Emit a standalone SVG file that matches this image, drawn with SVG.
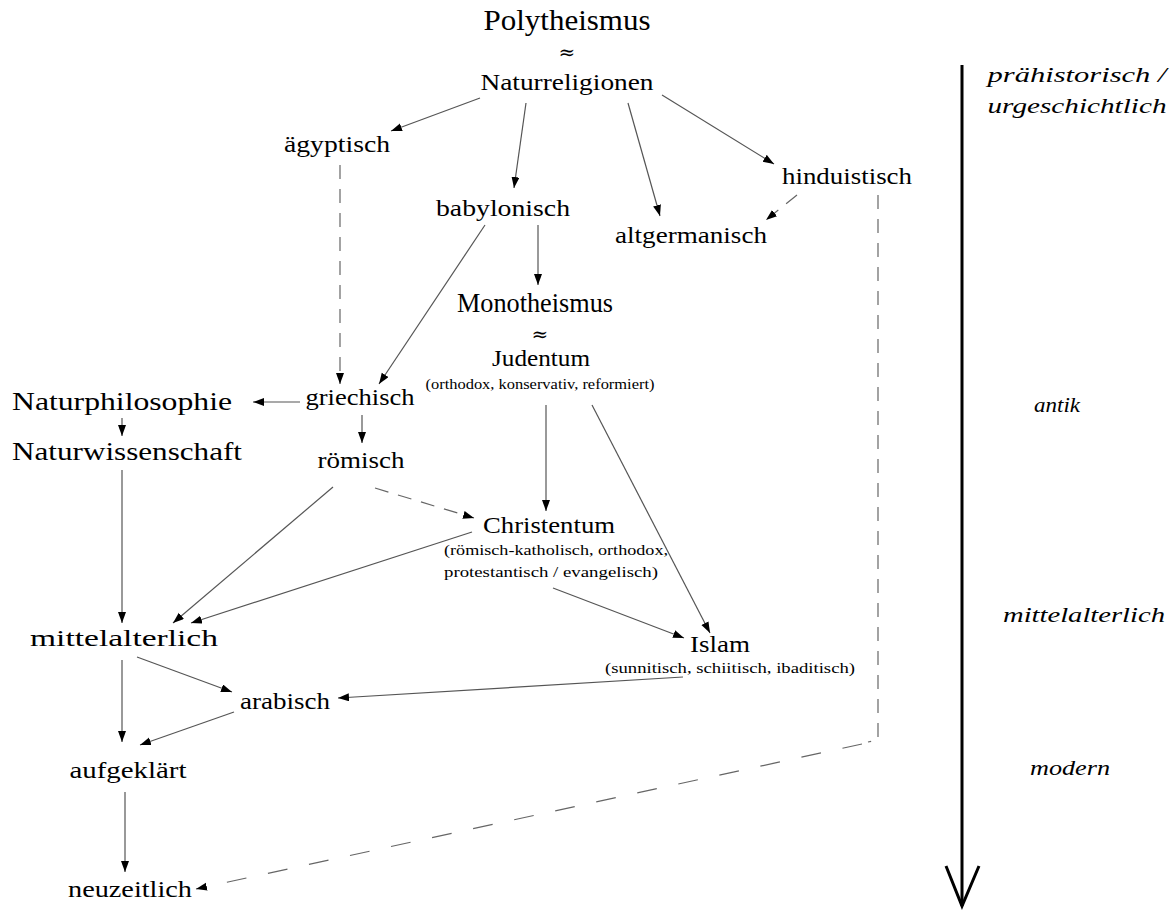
<svg xmlns="http://www.w3.org/2000/svg" width="1175" height="911" viewBox="0 0 1175 911">
<style>
text{font-family:'Liberation Serif','Times New Roman',serif;fill:#000}
.n{font-size:24px;text-anchor:middle}
.big{font-size:30px;text-anchor:middle}
.sm{font-size:15.5px;text-anchor:middle}
.it{font-size:22px;font-style:italic;text-anchor:middle}
.apx{font-family:'DejaVu Serif',serif;font-size:20px;text-anchor:middle}
.c{stroke:#555;stroke-width:1.2;fill:none;marker-end:url(#ah)}
.d{stroke:#666;stroke-width:1.2;fill:none;stroke-dasharray:14 10}
</style>
<defs>
<marker id="ah" markerUnits="userSpaceOnUse" markerWidth="12" markerHeight="9" refX="11" refY="4" orient="auto">
<path d="M0,0 L11,4 L0,8 z" fill="#000"/>
</marker>
</defs>
<rect width="1175" height="911" fill="#fff"/>
<g id="connectors">
<line class="c" x1="480" y1="98" x2="391" y2="131"/>
<line class="c" x1="526" y1="103" x2="514" y2="188"/>
<line class="c" x1="628" y1="103" x2="660" y2="216"/>
<line class="c" x1="662" y1="95" x2="774" y2="164"/>
<line class="d" x1="797" y1="195" x2="766" y2="220" style="marker-end:url(#ah)"/>
<line class="d" x1="340" y1="165" x2="340" y2="384" style="marker-end:url(#ah)"/>
<line class="c" x1="485" y1="225" x2="379" y2="384"/>
<line class="c" x1="538" y1="225" x2="538" y2="285"/>
<line class="c" x1="300" y1="402" x2="253" y2="402"/>
<line class="c" x1="122" y1="418" x2="122" y2="436"/>
<line class="c" x1="362" y1="415" x2="362" y2="443"/>
<line class="c" x1="546" y1="405" x2="546" y2="511"/>
<line class="c" x1="592" y1="405" x2="710" y2="633"/>
<line class="d" x1="375" y1="488" x2="474" y2="518" style="marker-end:url(#ah)"/>
<line class="c" x1="333" y1="487" x2="173" y2="623"/>
<line class="c" x1="472" y1="532" x2="191" y2="623"/>
<line class="c" x1="122" y1="470" x2="122" y2="623"/>
<line class="c" x1="553" y1="588" x2="684" y2="638"/>
<line class="c" x1="683" y1="677" x2="338" y2="698"/>
<line class="c" x1="137" y1="657" x2="232" y2="692"/>
<line class="c" x1="122" y1="660" x2="122" y2="742"/>
<line class="c" x1="234" y1="712" x2="140" y2="745"/>
<line class="c" x1="125" y1="792" x2="125" y2="872"/>
<path class="d" d="M878 195 L878 740 L868 742"/>
<line class="d" x1="862" y1="744" x2="196" y2="889" style="stroke-dasharray:20 22;marker-end:url(#ah)"/>
<line x1="962" y1="65" x2="962" y2="906" stroke="#000" stroke-width="3"/>
<path d="M946 866 L962 906 L979 866" fill="none" stroke="#000" stroke-width="3"/>
</g>
<g id="n-polytheismus"><text class="big" x="567" y="30" textLength="167" lengthAdjust="spacingAndGlyphs">Polytheismus</text><text class="apx" x="567" y="59">≈</text></g>
<g id="n-naturreligionen"><text class="n" x="567" y="90" textLength="173" lengthAdjust="spacingAndGlyphs">Naturreligionen</text></g>
<g id="n-aegyptisch"><text class="n" x="337" y="152" textLength="106" lengthAdjust="spacingAndGlyphs">ägyptisch</text></g>
<g id="n-babylonisch"><text class="n" x="503" y="216" textLength="134" lengthAdjust="spacingAndGlyphs">babylonisch</text></g>
<g id="n-altgermanisch"><text class="n" x="691" y="243" textLength="152" lengthAdjust="spacingAndGlyphs">altgermanisch</text></g>
<g id="n-hinduistisch"><text class="n" x="847" y="184" textLength="130" lengthAdjust="spacingAndGlyphs">hinduistisch</text></g>
<g id="n-monotheismus"><text class="n" x="535" y="312" style="font-size:28px" textLength="156" lengthAdjust="spacingAndGlyphs">Monotheismus</text><text class="apx" x="540" y="341">≈</text></g>
<g id="n-judentum"><text class="n" x="541" y="366" textLength="98" lengthAdjust="spacingAndGlyphs">Judentum</text><text class="sm" x="540" y="389" textLength="229" lengthAdjust="spacingAndGlyphs">(orthodox, konservativ, reformiert)</text></g>
<g id="n-naturphilosophie"><text class="n" x="122" y="410" style="font-size:26px" textLength="220" lengthAdjust="spacingAndGlyphs">Naturphilosophie</text></g>
<g id="n-naturwissenschaft"><text class="n" x="127" y="460" style="font-size:26px" textLength="230" lengthAdjust="spacingAndGlyphs">Naturwissenschaft</text></g>
<g id="n-griechisch"><text class="n" x="360" y="405" textLength="109" lengthAdjust="spacingAndGlyphs">griechisch</text></g>
<g id="n-roemisch"><text class="n" x="361" y="468" textLength="87" lengthAdjust="spacingAndGlyphs">römisch</text></g>
<g id="n-christentum"><text class="n" x="549" y="533" textLength="132" lengthAdjust="spacingAndGlyphs">Christentum</text><text class="sm" x="444" y="555" style="text-anchor:start" textLength="224" lengthAdjust="spacingAndGlyphs">(römisch-katholisch, orthodox,</text><text class="sm" x="444" y="577" style="text-anchor:start" textLength="214" lengthAdjust="spacingAndGlyphs">protestantisch / evangelisch)</text></g>
<g id="n-mittelalterlich"><text class="n" x="124" y="646" textLength="188" lengthAdjust="spacingAndGlyphs">mittelalterlich</text></g>
<g id="n-islam"><text class="n" x="720" y="652" textLength="60" lengthAdjust="spacingAndGlyphs">Islam</text><text class="sm" x="730" y="673" textLength="250" lengthAdjust="spacingAndGlyphs">(sunnitisch, schiitisch, ibaditisch)</text></g>
<g id="n-arabisch"><text class="n" x="285" y="709" textLength="90" lengthAdjust="spacingAndGlyphs">arabisch</text></g>
<g id="n-aufgeklaert"><text class="n" x="128" y="778" textLength="117" lengthAdjust="spacingAndGlyphs">aufgeklärt</text></g>
<g id="n-neuzeitlich"><text class="n" x="130" y="897" textLength="124" lengthAdjust="spacingAndGlyphs">neuzeitlich</text></g>
<g id="timeline">
<text class="it" x="1077" y="82" textLength="179" lengthAdjust="spacingAndGlyphs">prähistorisch /</text>
<text class="it" x="1077" y="113" textLength="179" lengthAdjust="spacingAndGlyphs">urgeschichtlich</text>
<text class="it" x="1057" y="412" textLength="46" lengthAdjust="spacingAndGlyphs">antik</text>
<text class="it" x="1084" y="622" textLength="162" lengthAdjust="spacingAndGlyphs">mittelalterlich</text>
<text class="it" x="1070" y="775" textLength="80" lengthAdjust="spacingAndGlyphs">modern</text>
</g>
</svg>
